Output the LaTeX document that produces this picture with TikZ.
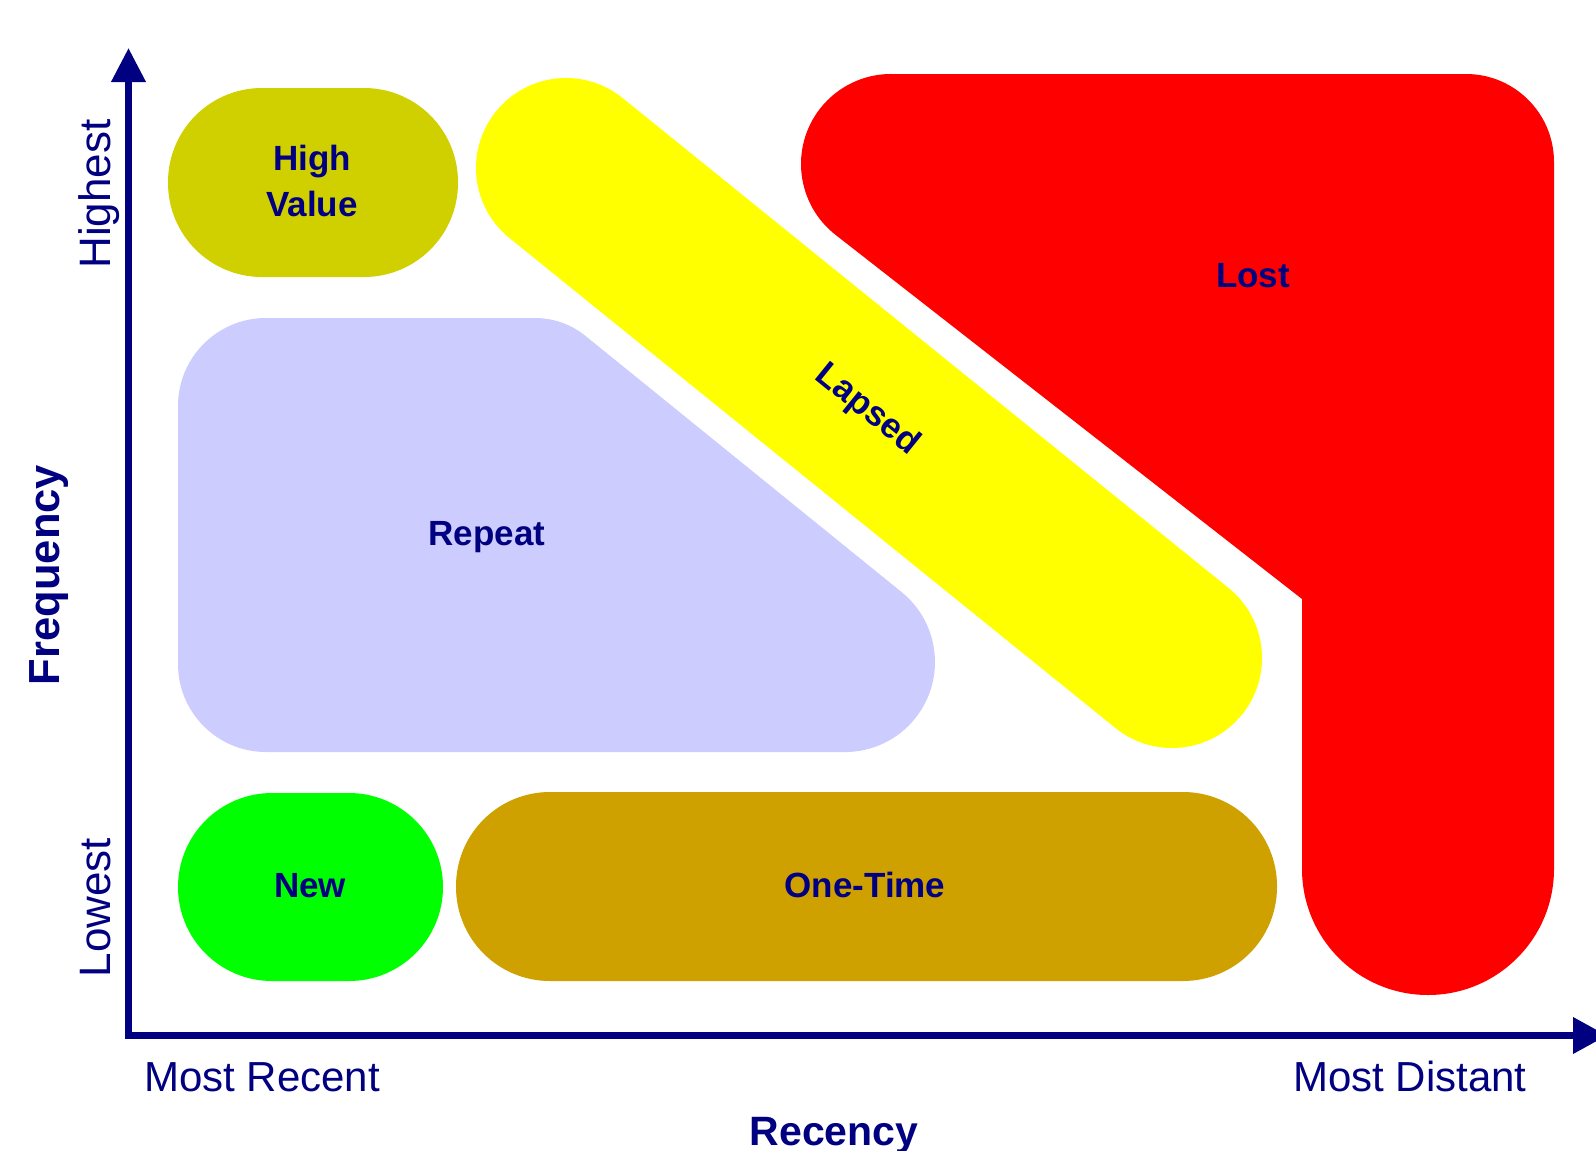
\documentclass[tikz,border=0pt]{standalone}
\usepackage{fontspec}
\setmainfont{Liberation Sans}
\usetikzlibrary{arrows.meta}
\definecolor{navy}{RGB}{0,0,128}
\definecolor{hvcol}{RGB}{208,208,0}
\definecolor{lapcol}{RGB}{255,255,0}
\definecolor{lostcol}{RGB}{255,0,0}
\definecolor{repcol}{RGB}{204,204,255}
\definecolor{newcol}{RGB}{0,255,0}
\definecolor{otcol}{RGB}{206,160,0}
\begin{document}
\begin{tikzpicture}[x=1pt,y=-1pt,
  seglabel/.style={text=navy,font=\bfseries\fontsize{35}{42}\selectfont,inner sep=0pt},
  axlabel/.style={text=navy,font=\fontsize{42}{50}\selectfont,inner sep=0pt},
  vaxlabel/.style={text=navy,font=\fontsize{44}{52}\selectfont,inner sep=0pt},
  axtitle/.style={text=navy,font=\bfseries\fontsize{41}{50}\selectfont,inner sep=0pt},
  vaxtitle/.style={text=navy,font=\bfseries\fontsize{43.5}{52}\selectfont,inner sep=0pt},
  stadium/.style={rounded corners=94pt}]
\useasboundingbox (0,0) rectangle (1596,1151);
\fill[white] (0,0) rectangle (1596,1151);

% Lost
\fill[lostcol] (891,74) -- (1466,74) arc[start angle=-90,end angle=0,radius=88]
  -- (1554,869) arc[start angle=0,end angle=180,radius=126]
  -- (1302,599) -- (835.6,234.9) arc[start angle=128,end angle=270,radius=90] -- cycle;

% Lapsed
\draw[lapcol,line width=180pt,line cap=round] (566,168) -- (1172,658);

% High Value
\fill[hvcol,stadium] (168,88) rectangle (458,277);

% Repeat
\fill[repcol] (266,318) -- (535,318) arc[start angle=-90,end angle=-51,radius=80]
  -- (901.6,592.1) arc[start angle=-51,end angle=90,radius=90]
  -- (266,752) arc[start angle=90,end angle=180,radius=88]
  -- (178,406) arc[start angle=180,end angle=270,radius=88] -- cycle;

% New and One-Time
\fill[newcol,stadium] (178,793) rectangle (443,981);
\fill[otcol,stadium] (456,792) rectangle (1277,981);

% axes
\draw[navy,line width=7pt,{Triangle[length=34pt,width=33pt]}-{Triangle[length=34pt,width=35pt]}]
  (128.5,48) -- (128.5,1035.5) -- (1607,1035.5);

% segment labels
\node[seglabel,anchor=base] (hv1) at (312,170) {High};
\node[seglabel,anchor=base] (hv2) at (312,216) {Value};
\node[seglabel,rotate=-39] (lapsed) at (867,410) {Lapsed};
\node[seglabel,anchor=base] (lost) at (1253,287) {Lost};
\node[seglabel,anchor=base] (repeat) at (487,545) {Repeat};
\node[seglabel,anchor=base] (new) at (310,897) {New};
\node[seglabel,anchor=base] (onetime) at (865,897) {One-Time};

% axis labels
\node[vaxlabel,anchor=base,rotate=90] (highest) at (110,194) {Highest};
\node[vaxlabel,anchor=base,rotate=90] (lowest) at (110,907.5) {Lowest};
\node[vaxtitle,anchor=base,rotate=90] (freq) at (59,575) {Frequency};
\node[axlabel,anchor=base] (mrecent) at (262,1091) {Most Recent};
\node[axlabel,anchor=base] (mdistant) at (1410,1091) {Most Distant};
\node[axtitle,anchor=base] (recency) at (834,1145) {Recency};
\end{tikzpicture}
\end{document}
